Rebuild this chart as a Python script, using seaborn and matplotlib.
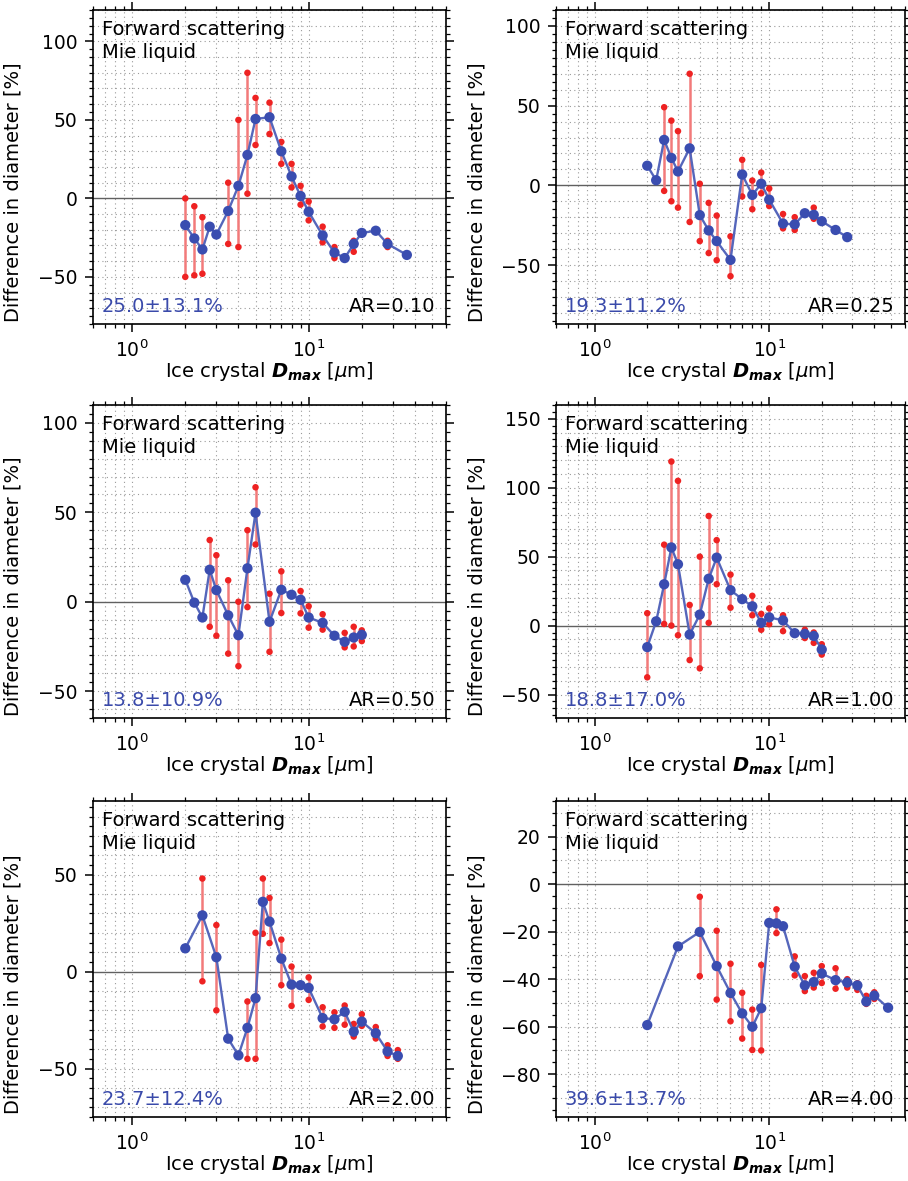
import numpy as np
import pandas as pd
import matplotlib
matplotlib.use("Agg")
import matplotlib.pyplot as plt
from matplotlib.ticker import MultipleLocator, LogLocator, NullFormatter, LogFormatterSciNotation
import seaborn as sns

nan = np.nan

# ---------------- data ----------------
ar010_x = [2, 2.25, 2.5, 2.75, 3, 3.5, 4, 4.5, 5, 6, 7, 8, 9, 10, 12, 14, 16, 18, 20, 24, 28, 36]
ar010_y = [-17, -25.5, -32.5, -18, -23, -8, 8, 27.7, 50.6, 51.7, 30, 14, 1.5, -8.5, -23.6, -34.5, -38, -29, -22, -20.6, -29, -36]
ar010_lo = [-50, -49, -48, nan, nan, -29, -31, 3, 34, 41, 22, 7, -4, -14, -28, -38, nan, -34, nan, nan, -31, nan]
ar010_hi = [0, -5, -12, nan, nan, 10, 50, 80, 64, 61, 36, 22, 8, -2, -18, -31, nan, -27, nan, nan, -27, nan]

ar025_x = [2, 2.25, 2.5, 2.75, 3, 3.5, 4, 4.5, 5, 6, 7, 8, 9, 10, 12, 14, 16, 18, 20, 24, 28]
ar025_y = [12.3, 3.2, 28.5, 17.2, 8.7, 23.2, -18.7, -28.3, -35, -46.8, 6.8, -6, 1, -9, -24, -24.5, -17.5, -18.5, -22.5, -28, -32.5]
ar025_lo = [nan, nan, -3.5, -10, -14, -23, -35, -42.5, -47, -57, -7, -15, -5, -13, -27, -28, nan, -21, nan, nan, nan]
ar025_hi = [nan, nan, 49, 40.6, 34, 70, 1, -11, -19, -32, 16, 3, 8, -2, -18, -20, nan, -14, nan, nan, nan]

ar050_x = [2, 2.25, 2.5, 2.75, 3, 3.5, 4, 4.5, 5, 6, 7, 8, 9, 10, 12, 14, 16, 18, 20]
ar050_y = [12.3, -0.5, -8.8, 17.9, 6.5, -7.6, -18.7, 18.7, 49.8, -11.2, 6.7, 3.9, 1.1, -8.8, -11.8, -19, -22.4, -20, -18.5]
ar050_lo = [nan, nan, nan, -14, -19, -29, -36, -3, 32, -28, -6.3, nan, -6.5, -14.5, -15.6, nan, -25.5, -25, -22]
ar050_hi = [nan, nan, nan, 34.5, 26, 12, 0, 40, 64, 4.5, 17, nan, 6, -2.5, -7, nan, -17.4, -14, -16]

ar100_x = [2, 2.25, 2.5, 2.75, 3, 3.5, 4, 4.5, 5, 6, 7, 8, 9, 10, 12, 14, 16, 18, 20]
ar100_y = [-15.6, 3.1, 30, 56.7, 44.5, -6.5, 8, 34, 49.3, 25.7, 19.2, 14, 2, 6, 3.8, -5.5, -6, -7.5, -17.3]
ar100_lo = [-37.5, nan, 1.2, 0, -7, -25, -31, 2, 30, 13, nan, 7.5, -3, 1, -4, nan, -9, -12.5, -21]
ar100_hi = [9, nan, 58.7, 119, 105, 15, 50, 79.5, 62, 37, nan, 21.6, 8.5, 12.5, 7.5, nan, -3, -5, -13.5]

ar200_x = [2, 2.5, 3, 3.5, 4, 4.5, 5, 5.5, 6, 7, 8, 9, 10, 12, 14, 16, 18, 20, 24, 28, 32]
ar200_y = [12, 29, 7.4, -34.6, -43.2, -29, -13.7, 36, 25.8, 6.7, -6.7, -7, -8.4, -24, -24.6, -20.7, -31, -25.8, -31.8, -41.2, -43.5]
ar200_lo = [nan, -5, -20, nan, nan, -45, -45, 19.5, 14.7, -7, -17.7, nan, -14.6, -28.3, -29, -27.4, -33.5, -28, -34.5, -43.5, -45]
ar200_hi = [nan, 48, 24, nan, nan, -15.4, 20, 48, 38, 16.5, 2.6, nan, -3, -18.4, -21, -17.5, -27, -22, -28.6, -38, -40.5]

ar400_x = [2, 3, 4, 5, 6, 7, 8, 9, 10, 11, 12, 14, 16, 18, 20, 24, 28, 32, 36, 40, 48]
ar400_y = [-59.3, -26.2, -20.1, -34.5, -45.8, -54.4, -60, -52.2, -16.3, -16.5, -17.7, -34.7, -42.6, -41.2, -37.6, -40.4, -41.4, -42.6, -49.4, -46.9, -52]
ar400_lo = [nan, nan, -38.7, -48.6, -57.7, -65, -69.8, -70, nan, -20.6, nan, -38.4, -45, -43.5, -41.6, -44, -43.5, -44.5, -50.4, -48.3, nan]
ar400_hi = [nan, nan, -5.3, -19.6, -33.5, -45.7, -52.8, -34, nan, -10.6, nan, -30.4, -38.7, -37.3, -34.5, -35.4, -40, -41.7, -47, -45.5, nan]

ar_labels = ["AR=0.10", "AR=0.25", "AR=0.50", "AR=1.00", "AR=2.00", "AR=4.00"]
stat_labels = ["25.0\u00b113.1%", "19.3\u00b111.2%", "13.8\u00b110.9%", "18.8\u00b117.0%", "23.7\u00b112.4%", "39.6\u00b113.7%"]
title_lines = ["Forward scattering", "Mie liquid"]
ylims = [(-80, 120), (-87, 110), (-65, 110), (-67, 160), (-75, 88), (-98, 35)]
ymajor = [50, 50, 50, 50, 50, 20]

panels = [
    (ar010_x, ar010_y, ar010_lo, ar010_hi),
    (ar025_x, ar025_y, ar025_lo, ar025_hi),
    (ar050_x, ar050_y, ar050_lo, ar050_hi),
    (ar100_x, ar100_y, ar100_lo, ar100_hi),
    (ar200_x, ar200_y, ar200_lo, ar200_hi),
    (ar400_x, ar400_y, ar400_lo, ar400_hi),
]

# ---------------- style ----------------
sns.set_theme(style="white")
plt.rcParams["font.family"] = ["DejaVu Sans"]
plt.rcParams["mathtext.fontset"] = "dejavusans"
for k in ["text.color", "axes.labelcolor", "xtick.color", "ytick.color",
          "xtick.labelcolor", "ytick.labelcolor"]:
    plt.rcParams[k] = "black"
plt.rcParams["axes.edgecolor"] = "black"
plt.rcParams["axes.linewidth"] = 1.2

W, H = 908, 1181
fig = plt.figure(figsize=(W / 100, H / 100), dpi=100)

# pixel boxes (left, top, right, bottom)
boxes = [
    (93, 10, 446, 324), (556, 10, 905, 324),
    (93, 405, 446, 718), (556, 405, 905, 718),
    (93, 801, 446, 1117), (556, 801, 905, 1117),
]

BLUE_LINE = "#5566bb"
BLUE_MK = "#3a4db0"
RED_LINE = "#f27a7a"
RED_MK = "#ee2222"
STAT_COL = "#3a4aaa"
FS_TICK = 13.5
FS_LAB = 14
FS_TXT = 14

for i, (box, (xs, ys, lo, hi)) in enumerate(zip(boxes, panels)):
    l, t, r, b = box
    ax = fig.add_axes([l / W, 1 - b / H, (r - l) / W, (b - t) / H])
    ax.set_xscale("log")
    ax.set_xlim(0.6, 60)
    ax.set_ylim(*ylims[i])

    # dotted grid
    for gx in [0.7, 0.8, 0.9, 1, 2, 3, 4, 5, 6, 7, 8, 9, 10, 20, 30, 40, 50]:
        ax.axvline(gx, color="#9a9a9a", lw=0.8, ls=(0, (1, 3)), zorder=0)
    y0, y1 = ylims[i]
    for gy in np.arange(np.ceil(y0 / 10) * 10, y1 + 0.1, 10):
        if gy != 0:
            ax.axhline(gy, color="#9a9a9a", lw=0.8, ls=(0, (1, 3)), zorder=0)
    ax.axhline(0, color="#606060", lw=1.0, zorder=1)

    df = pd.DataFrame({"x": xs, "y": ys, "lo": lo, "hi": hi})
    de = df.dropna()
    ax.vlines(de["x"], de["lo"], de["hi"], color=RED_LINE, lw=1.8, zorder=2)
    ends = pd.concat([de[["x", "lo"]].rename(columns={"lo": "v"}),
                      de[["x", "hi"]].rename(columns={"hi": "v"})])
    sns.scatterplot(data=ends, x="x", y="v", ax=ax, color=RED_MK, s=22,
                    edgecolor="none", zorder=3, legend=False)
    sns.lineplot(data=df, x="x", y="y", ax=ax, color=BLUE_LINE, lw=1.7,
                 zorder=4, legend=False, sort=True)
    sns.scatterplot(data=df, x="x", y="y", ax=ax, color=BLUE_MK, s=55,
                    edgecolor="none", zorder=5, legend=False)

    # ticks
    ax.xaxis.set_major_locator(LogLocator(base=10, numticks=10))
    ax.xaxis.set_minor_locator(LogLocator(base=10, subs=np.arange(2, 10), numticks=20))
    ax.xaxis.set_major_formatter(LogFormatterSciNotation())
    ax.xaxis.set_minor_formatter(NullFormatter())
    ax.yaxis.set_major_locator(MultipleLocator(ymajor[i]))
    ax.yaxis.set_minor_locator(MultipleLocator(5))
    ax.tick_params(which="both", direction="out", top=True, right=True,
                   bottom=True, left=True, color="black", labelcolor="black",
                   labelsize=FS_TICK)
    ax.tick_params(which="major", length=6, width=1.1, pad=5)
    ax.tick_params(which="minor", length=3, width=0.9)

    ax.set_xlabel(r"Ice crystal $\mathbfit{D}_{\mathbfit{max}}$ [$\mu$m]", fontsize=FS_LAB)
    ax.set_ylabel("Difference in diameter [%]", fontsize=FS_LAB)
    ax.xaxis.set_label_coords(0.5, -0.115)
    ax.yaxis.set_label_coords(-0.2, 0.42)

    ax.text(0.025, 0.92, title_lines[0], transform=ax.transAxes, fontsize=FS_TXT,
            va="baseline", ha="left", color="black", zorder=6)
    ax.text(0.025, 0.847, title_lines[1], transform=ax.transAxes, fontsize=FS_TXT,
            va="baseline", ha="left", color="black", zorder=6)
    ax.text(0.025, 0.039, stat_labels[i], transform=ax.transAxes, fontsize=FS_TXT,
            va="baseline", ha="left", color=STAT_COL, zorder=6)
    ax.text(0.969, 0.039, ar_labels[i], transform=ax.transAxes, fontsize=FS_TXT,
            va="baseline", ha="right", color="black", zorder=6)
    for sp in ax.spines.values():
        sp.set_visible(True)
        sp.set_color("black")
        sp.set_linewidth(1.2)

fig.savefig("out.png", dpi=100)
